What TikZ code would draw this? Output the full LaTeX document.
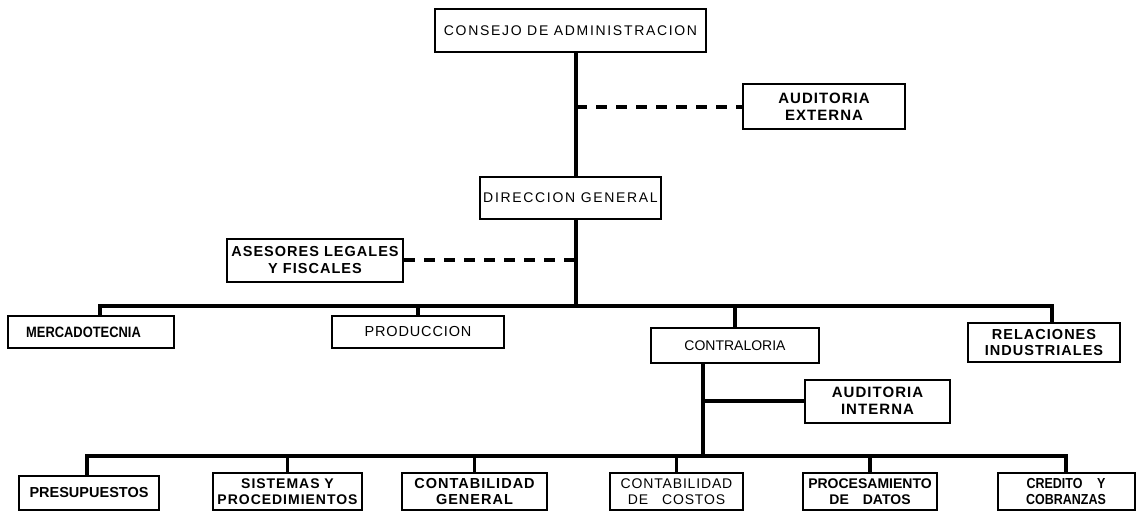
\documentclass[tikz,border=0pt]{standalone}
\usepackage{fontspec}
\setmainfont{Liberation Sans}
\newfontfamily\widefont[LetterSpace=12]{Liberation Sans}
\newfontfamily\midfont[LetterSpace=6]{Liberation Sans}
\newfontfamily\bwidefont[LetterSpace=7]{Liberation Sans}
\newfontfamily\bnarrowfont[FakeStretch=0.86]{Liberation Sans}
\begin{document}
\begin{tikzpicture}[x=1pt,y=-1pt,
  box/.style={draw, line width=2pt, inner sep=0pt, align=center},
  rw/.style={box, font=\fontsize{14}{16.5}\selectfont\widefont},
  rm/.style={box, font=\fontsize{14.5}{16.5}\selectfont\midfont},
  rr/.style={box, font=\fontsize{14}{16.5}\selectfont},
  bw/.style={box, font=\fontsize{14.5}{16.5}\selectfont\bwidefont\bfseries},
  bws/.style={box, font=\fontsize{14}{16.5}\selectfont\bwidefont\bfseries},
  bb/.style={box, font=\fontsize{14.5}{16.5}\selectfont\bfseries},
  bbs/.style={box, font=\fontsize{14}{16.5}\selectfont\bfseries},
  bn/.style={box, font=\fontsize{14.5}{16.5}\selectfont\bnarrowfont\bfseries},
  trunk/.style={line width=3.8pt},
  dashline/.style={line width=3.5pt, dash pattern=on 11pt off 9pt}]
\useasboundingbox (0,0) rectangle (1137,513);
% top levels
\node[rw, minimum width=271pt, minimum height=43pt] (consejo) at (570.5,30.5)
  {CONSEJO DE ADMINISTRACION};
\node[bw, minimum width=162pt, minimum height=45pt, font=\fontsize{15}{16.5}\selectfont\bwidefont\bfseries] (audext) at (824,107)
  {AUDITORIA\\EXTERNA};
\node[rw, minimum width=181pt, minimum height=42pt] (direccion) at (570.5,198)
  {DIRECCION GENERAL};
\node[bw, minimum width=176pt, minimum height=43pt] (asesores) at (315,260)
  {ASESORES LEGALES\\Y FISCALES};
% second level
\node[bn, minimum width=166pt, minimum height=32pt, font=\fontsize{15}{16.5}\selectfont\bnarrowfont\bfseries] (mercado) at (90.5,332)
  {MERCADOTECNIA\hspace*{14pt}};
\node[rm, minimum width=172pt, minimum height=32pt] (produccion) at (418,332)
  {PRODUCCION};
\node[rr, minimum width=168pt, minimum height=35pt] (contraloria) at (735,345.5)
  {CONTRALORIA};
\node[bw, minimum width=152pt, minimum height=39pt] (relaciones) at (1044,342.5)
  {RELACIONES\\INDUSTRIALES};
\node[bw, minimum width=145pt, minimum height=43pt, font=\fontsize{15}{16.5}\selectfont\bwidefont\bfseries] (audint) at (877.5,401)
  {AUDITORIA\\INTERNA};
% third level
\node[bb, minimum width=140pt, minimum height=34pt] (presup) at (89,493)
  {PRESUPUESTOS};
\node[bws, minimum width=149pt, minimum height=37pt] (sistemas) at (287.5,491.5)
  {SISTEMAS Y\\PROCEDIMIENTOS};
\node[bw, minimum width=145pt, minimum height=37pt] (contgen) at (474.5,491.5)
  {CONTABILIDAD\\GENERAL};
\node[rm, minimum width=133pt, minimum height=37pt, font=\fontsize{14}{16.5}\selectfont\midfont] (contcos) at (676.5,491.5)
  {CONTABILIDAD\\DE\quad COSTOS};
\node[bbs, minimum width=134pt, minimum height=37pt] (procdat) at (870,491.5)
  {PROCESAMIENTO\\DE\quad DATOS};
\node[bn, minimum width=137pt, minimum height=37pt] (credito) at (1066,491.5)
  {CREDITO\quad Y\\COBRANZAS};
% coordinates
\coordinate (tx) at (576,0);
\coordinate (bl) at (100,306);
\coordinate (br) at (1052,306);
\coordinate (cx) at (703,0);
\coordinate (cl) at (87,456);
\coordinate (cr) at (1066,456);
% connectors
\draw[trunk] (consejo.south -| tx) -- (direccion.north -| tx);
\draw[trunk] (direccion.south -| tx) -- (tx |- bl);
\draw[dashline] (tx |- audext.west) -- (audext.west);
\draw[dashline] (asesores.east) -- (asesores.east -| tx);
\draw[trunk] (mercado.north -| bl) -- (bl) -- (br) -- (relaciones.north -| br);
\draw[trunk] (produccion.north) -- (produccion.north |- bl);
\draw[trunk] (contraloria.north) -- (contraloria.north |- bl);
\draw[trunk] (contraloria.south -| cx) -- (cx |- cl);
\draw[trunk] (cx |- audint.west) -- (audint.west);
\draw[trunk] (presup.north -| cl) -- (cl) -- (cr) -- (credito.north -| cr);
\draw[trunk] (sistemas.north) -- (sistemas.north |- cl);
\draw[trunk] (contgen.north) -- (contgen.north |- cl);
\draw[trunk] (contcos.north) -- (contcos.north |- cl);
\draw[trunk] (procdat.north) -- (procdat.north |- cl);
\end{tikzpicture}
\end{document}
